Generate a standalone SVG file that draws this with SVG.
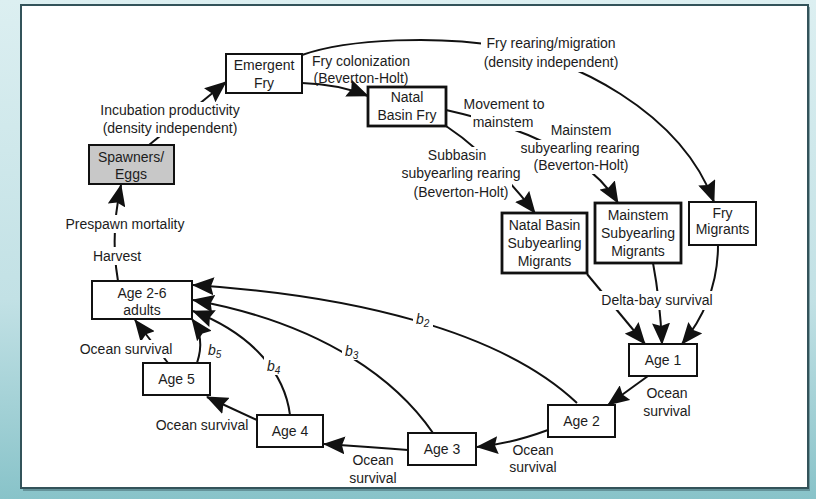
<svg xmlns="http://www.w3.org/2000/svg" width="816" height="499" viewBox="0 0 816 499">
  <defs>
    <linearGradient id="bg" x1="0" y1="0" x2="0" y2="1">
      <stop offset="0" stop-color="#dcefF1"/>
      <stop offset="0.6" stop-color="#c2e1e5"/>
      <stop offset="1" stop-color="#88c3c9"/>
    </linearGradient>
    <marker id="arrow" viewBox="0 0 22 18" markerWidth="22" markerHeight="18" refX="21" refY="9" orient="auto" markerUnits="userSpaceOnUse">
      <path d="M0,0 L22,9 L0,18 L3,9 z" fill="#111"/>
    </marker>
    <style>
      .box { fill: #fff; stroke: #111; stroke-width: 2; }
      .thick { stroke-width: 2.8; }
      .gray { fill: #c8c8c8; }
      .edge { fill: none; stroke: #111; stroke-width: 2; marker-end: url(#arrow); }
      .bgk { fill: #fff; }
      text { font-family: "Liberation Sans", Arial, sans-serif; font-size: 14px; fill: #1c1c1c; text-anchor: middle; }
      .b { font-style: italic; text-anchor: start; }
      .sub { font-size: 10px; font-style: italic; }
    </style>
  </defs>

  <!-- backdrop and panel -->
  <rect x="0" y="0" width="816" height="499" fill="url(#bg)"/>
  <rect x="23" y="7" width="787" height="484" fill="#4d7379" opacity="0.6"/>
  <rect x="21" y="5" width="787" height="483" fill="#fff" stroke="#33535a" stroke-width="2"/>

  <!-- connectors -->
  <g id="connectors">
    <path class="edge" d="M149,145 L226,82"/>
    <path class="edge" d="M302,83 Q338,84 368,96"/>
    <path class="edge" d="M302,55 C350,38 440,36 500,46 C570,58 680,110 714,202"/>
    <path class="edge" d="M446,110 Q580,140 618,203"/>
    <path class="edge" d="M446,126 Q490,155 535,213"/>
    <path class="edge" d="M587,274 L645,344"/>
    <path class="edge" d="M653,263 Q660,300 662,344"/>
    <path class="edge" d="M718,245 Q718,300 682,344"/>
    <path class="edge" d="M648,376 L608,405"/>
    <path class="edge" d="M548,430 Q510,444 477,447"/>
    <path class="edge" d="M408,450 Q370,447 324,444"/>
    <path class="edge" d="M257,420 Q235,410 207,397"/>
    <path class="edge" d="M168,363 L135,320"/>
    <path class="edge" d="M118,281 Q110,235 121,185"/>
    <path class="edge" d="M197,363 C203,345 200,330 192,319"/>
    <path class="edge" d="M290,415 C285,375 255,335 193,311"/>
    <path class="edge" d="M433,433 C400,385 330,325 193,300"/>
    <path class="edge" d="M577,403 C500,330 350,295 193,285"/>
  </g>

  <!-- connector labels: white backings first, then the text -->
  <g id="label-backings">
    <rect class="bgk" x="98" y="102" width="145" height="35"/>
    <rect class="bgk" x="481" y="33" width="141" height="39"/>
    <rect class="bgk" x="461" y="95" width="86" height="17"/>
    <rect class="bgk" x="471" y="113" width="64" height="18"/>
    <rect class="bgk" x="399" y="147" width="125" height="35"/>
    <rect class="bgk" x="411" y="182" width="101" height="18"/>
    <rect class="bgk" x="548" y="122" width="66" height="17"/>
    <rect class="bgk" x="518" y="140" width="125" height="17"/>
    <rect class="bgk" x="530" y="157" width="102" height="17"/>
    <rect class="bgk" x="599" y="291" width="116" height="19"/>
    <rect class="bgk" x="78" y="340" width="97" height="18"/>
    <rect class="bgk" x="63" y="215" width="124" height="18"/>
    <rect class="bgk" x="91" y="247" width="53" height="18"/>
    <rect class="bgk" x="413" y="310" width="20" height="18"/>
    <rect class="bgk" x="342" y="342" width="20" height="18"/>
    <rect class="bgk" x="264" y="357" width="20" height="18"/>
    <rect class="bgk" x="205" y="341" width="20" height="18"/>
  </g>
  <g id="labels">
    <text x="170" y="115">Incubation productivity</text>
    <text x="170" y="133">(density independent)</text>

    <text x="361" y="66">Fry colonization</text>
    <text x="361" y="83">(Beverton-Holt)</text>

    <text x="551" y="48">Fry rearing/migration</text>
    <text x="551" y="67">(density independent)</text>

    <text x="504" y="109">Movement to</text>
    <text x="503" y="127">mainstem</text>

    <text x="457" y="160">Subbasin</text>
    <text x="461" y="178">subyearling rearing</text>
    <text x="461" y="197">(Beverton-Holt)</text>

    <text x="581" y="135">Mainstem</text>
    <text x="580" y="153">subyearling rearing</text>
    <text x="581" y="170">(Beverton-Holt)</text>

    <text x="657" y="305">Delta-bay survival</text>

    <text x="667" y="398">Ocean</text>
    <text x="667" y="416">survival</text>
    <text x="533" y="455">Ocean</text>
    <text x="533" y="472">survival</text>
    <text x="373" y="465">Ocean</text>
    <text x="373" y="483">survival</text>
    <text x="202" y="430">Ocean survival</text>
    <text x="126" y="354">Ocean survival</text>

    <text x="125" y="229">Prespawn mortality</text>
    <text x="117" y="261">Harvest</text>

    <text class="b" x="416" y="324">b<tspan class="sub" dy="3">2</tspan></text>
    <text class="b" x="345" y="356">b<tspan class="sub" dy="3">3</tspan></text>
    <text class="b" x="267" y="371">b<tspan class="sub" dy="3">4</tspan></text>
    <text class="b" x="208" y="355">b<tspan class="sub" dy="3">5</tspan></text>
  </g>

  <!-- nodes -->
  <g id="spawners">
    <rect class="box gray" x="89" y="145" width="85" height="39"/>
    <text x="131" y="162">Spawners/</text>
    <text x="131" y="179">Eggs</text>
  </g>
  <g id="emergent-fry">
    <rect class="box" x="226" y="54" width="76" height="39"/>
    <text x="264" y="70">Emergent</text>
    <text x="264" y="88">Fry</text>
  </g>
  <g id="natal-basin-fry">
    <rect class="box thick" x="368" y="87" width="78" height="39"/>
    <text x="407" y="102">Natal</text>
    <text x="407" y="120">Basin Fry</text>
  </g>
  <g id="natal-basin-subyearling">
    <rect class="box thick" x="502" y="213" width="85" height="60"/>
    <text x="544.5" y="230">Natal Basin</text>
    <text x="544.5" y="248">Subyearling</text>
    <text x="544.5" y="266">Migrants</text>
  </g>
  <g id="mainstem-subyearling">
    <rect class="box thick" x="595" y="203" width="86" height="60"/>
    <text x="638" y="220">Mainstem</text>
    <text x="638" y="238">Subyearling</text>
    <text x="638" y="256">Migrants</text>
  </g>
  <g id="fry-migrants">
    <rect class="box" x="689" y="202" width="67" height="43"/>
    <text x="722.5" y="218">Fry</text>
    <text x="722.5" y="234">Migrants</text>
  </g>
  <g id="age1">
    <rect class="box" x="629" y="344" width="68" height="32"/>
    <text x="663" y="365">Age 1</text>
  </g>
  <g id="age2">
    <rect class="box" x="548" y="405" width="67" height="32"/>
    <text x="581.5" y="426">Age 2</text>
  </g>
  <g id="age3">
    <rect class="box" x="408" y="433" width="68" height="32"/>
    <text x="442" y="454">Age 3</text>
  </g>
  <g id="age4">
    <rect class="box" x="257" y="415" width="66" height="32"/>
    <text x="290" y="436">Age 4</text>
  </g>
  <g id="age5">
    <rect class="box" x="143" y="363" width="67" height="32"/>
    <text x="176.5" y="384">Age 5</text>
  </g>
  <g id="adults">
    <rect class="box" x="92" y="281" width="100" height="38"/>
    <text x="142" y="298">Age 2-6</text>
    <text x="142" y="315">adults</text>
  </g>
</svg>
